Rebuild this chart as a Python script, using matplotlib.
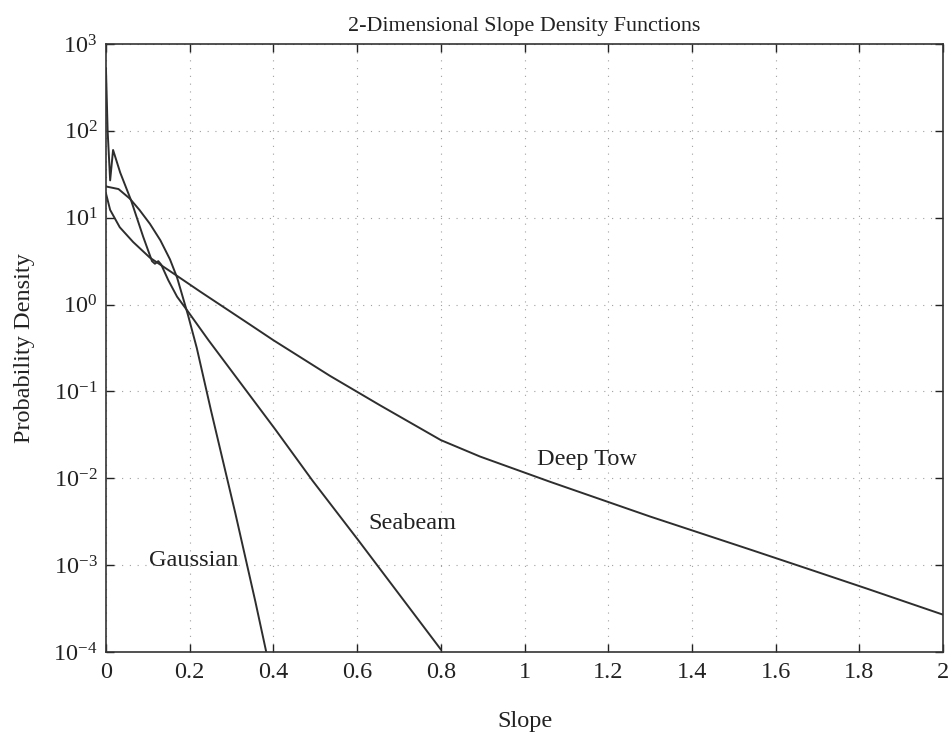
import matplotlib
matplotlib.use("Agg")
import matplotlib.pyplot as plt
import numpy as np

# ---- data ----
gauss_x = [0.000, 0.030, 0.057, 0.080, 0.105, 0.130, 0.153, 0.170, 0.196, 0.217, 0.251, 0.309, 0.357, 0.383]
gauss_log = [1.36, 1.33, 1.22, 1.09, 0.93, 0.74, 0.52, 0.31, -0.12, -0.50, -1.22, -2.40, -3.42, -4.00]

seabeam_x = [0.000, 0.004, 0.010, 0.017, 0.034, 0.060, 0.089, 0.110, 0.117, 0.125, 0.132, 0.149, 0.170, 0.196, 0.245, 0.405, 0.494, 0.604, 0.800]
seabeam_log = [2.72, 2.00, 1.43, 1.78, 1.52, 1.20, 0.78, 0.50, 0.47, 0.50, 0.46, 0.28, 0.09, -0.08, -0.41, -1.44, -2.03, -2.72, -3.97]

deeptow_x = [0.000, 0.010, 0.033, 0.065, 0.105, 0.170, 0.225, 0.272, 0.344, 0.400, 0.535, 0.655, 0.800, 0.894, 1.061, 1.300, 1.539, 1.682, 1.818, 2.000]
deeptow_log = [1.28, 1.09, 0.89, 0.72, 0.54, 0.33, 0.15, 0.00, -0.23, -0.41, -0.82, -1.16, -1.56, -1.75, -2.04, -2.44, -2.82, -3.05, -3.27, -3.57]

xticks = [0, 0.2, 0.4, 0.6, 0.8, 1.0, 1.2, 1.4, 1.6, 1.8, 2.0]
xtick_labels = ["0", "0.2", "0.4", "0.6", "0.8", "1", "1.2", "1.4", "1.6", "1.8", "2"]
ytick_exps = [-4, -3, -2, -1, 0, 1, 2, 3]

series_labels = ["Gaussian", "Seabeam", "Deep Tow"]
label_pos = [(0.21, 1.12e-3), (0.731, 3.0e-3), (1.149, 1.63e-2)]

# ---- style ----
plt.rcParams["font.family"] = ["Liberation Serif", "DejaVu Serif"]
plt.rcParams["mathtext.fontset"] = "custom"
plt.rcParams["mathtext.rm"] = "Liberation Serif"
plt.rcParams["mathtext.it"] = "Liberation Serif:italic"
plt.rcParams["mathtext.bf"] = "Liberation Serif:bold"

fig = plt.figure(figsize=(9.52, 7.37), dpi=100)
ax = fig.add_axes([0.1113, 0.1153, 0.8793, 0.8250])

lc = "#2e2e2e"
ax.plot(gauss_x, 10 ** np.array(gauss_log), color=lc, lw=1.4)
ax.plot(seabeam_x, 10 ** np.array(seabeam_log), color=lc, lw=1.4)
ax.plot(deeptow_x, 10 ** np.array(deeptow_log), color=lc, lw=1.4)

ax.set_yscale("log")
ax.set_xlim(0, 2)
ax.set_ylim(1e-4, 1e3)

ax.set_xticks(xticks)
ax.set_xticklabels(xtick_labels)
yt = [10.0 ** e for e in ytick_exps]
ax.set_yticks(yt)
ax.set_yticklabels([r"$10^{%d}$" % e for e in ytick_exps])
ax.yaxis.set_minor_locator(matplotlib.ticker.NullLocator())

ax.tick_params(direction="in", length=6, width=1.0, top=True, right=True,
               labelsize=17.5, colors="#222222", pad=7)
ax.tick_params(axis="y", pad=6)

ax.grid(True, which="major", linestyle=(0, (1, 6)), color="#a0a0a0", lw=0.8)

for sp in ax.spines.values():
    sp.set_color("#333333")
    sp.set_linewidth(1.2)

for lab, (lx, ly) in zip(series_labels, label_pos):
    ax.text(lx, ly, lab, fontsize=17.5, ha="center", va="center", color="#222222")

ax.set_title("2-Dimensional Slope Density Functions", fontsize=15.8, color="#222222", pad=9)
ax.set_xlabel("Slope", fontsize=17.5, color="#222222", labelpad=20)
ax.set_ylabel("Probability Density", fontsize=17.5, color="#222222", labelpad=13)

fig.savefig("out.png", dpi=100, facecolor="white")
